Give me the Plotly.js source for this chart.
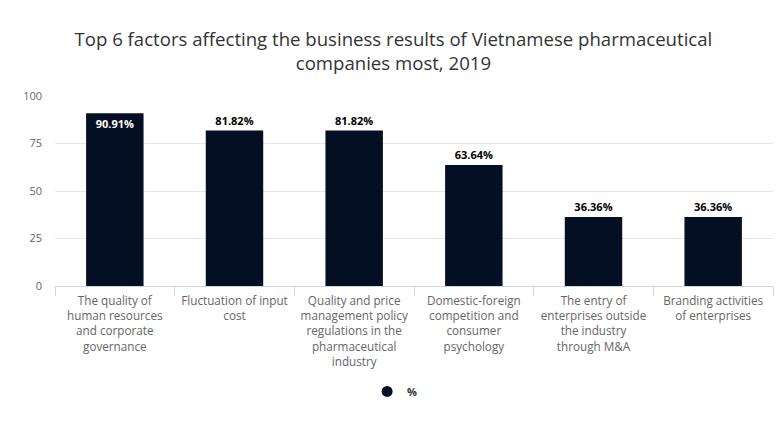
<!DOCTYPE html>
<html><head><meta charset="utf-8">
<script src="https://cdn.plot.ly/plotly-3.0.1.min.js"></script>
<style>html,body{margin:0;padding:0;background:#fff}#chart{width:779px;height:422px}</style>
</head><body><div id="chart"></div>
<script>
const categories = [
  "The quality of<br>human resources<br>and corporate<br>governance",
  "Fluctuation of input<br>cost",
  "Quality and price<br>management policy<br>regulations in the<br>pharmaceutical<br>industry",
  "Domestic-foreign<br>competition and<br>consumer<br>psychology",
  "The entry of<br>enterprises outside<br>the industry<br>through M&A",
  "Branding activities<br>of enterprises"
];
const values = [90.91, 81.82, 81.82, 63.64, 36.36, 36.36];
const seriesName = "%";
const yTicks = [0, 25, 50, 75, 100];

const textPos = values.map((v, i) => i === 0 ? "inside" : "outside");

const traces = [
  {
    type: "bar", x: categories, y: values, name: seriesName,
    marker: {color: "#050f23"},
    text: values.map(v => v.toFixed(2) + "%"),
    textposition: textPos, insidetextanchor: "end",
    outsidetextfont: {family: "Open Sans, sans-serif", size: 11, color: "#000", weight: 700},
    insidetextfont: {family: "Open Sans, sans-serif", size: 11, color: "#fff", weight: 700},
    cliponaxis: false, showlegend: false, hoverinfo: "none"
  },
  {
    type: "scatter", mode: "markers", x: [categories[0]], y: [null], name: seriesName,
    marker: {color: "#050f23", size: 11, symbol: "circle"}, showlegend: true
  }
];

const layout = {
  width: 779, height: 422,
  margin: {l: 55, r: 6, t: 96, b: 136},
  paper_bgcolor: "#fff", plot_bgcolor: "#fff",
  title: {
    text: "Top 6 factors affecting the business results of Vietnamese pharmaceutical<br>companies most, 2019",
    font: {family: "Open Sans, sans-serif", size: 18.6, color: "#333"},
    x: 0.505, xanchor: "center", y: 0.891, yanchor: "middle"
  },
  bargap: 0.52,
  xaxis: {
    type: "category", tickson: "boundaries", ticks: "outside", ticklen: 9,
    tickcolor: "#ccd6eb", showline: true, linecolor: "#ccd6eb", linewidth: 1,
    tickfont: {family: "Open Sans, sans-serif", size: 11.7, color: "#666"},
    ticklabelstandoff: 4,
    tickangle: 0, showgrid: false, fixedrange: true
  },
  yaxis: {
    range: [0, 100], tickvals: yTicks, ticks: "", showline: false,
    gridcolor: "#e6e6e6", zeroline: false,
    tickfont: {family: "Open Sans, sans-serif", size: 11, color: "#666"},
    ticklabelstandoff: 12, fixedrange: true
  },
  legend: {
    orientation: "h", x: 0.473, xanchor: "center", y: -0.555, yanchor: "middle",
    font: {family: "Open Sans, sans-serif", size: 11, color: "#333", weight: 700}
  },
  showlegend: true
};

Plotly.newPlot("chart", traces, layout, {displayModeBar: false, staticPlot: true});
</script></body></html>
